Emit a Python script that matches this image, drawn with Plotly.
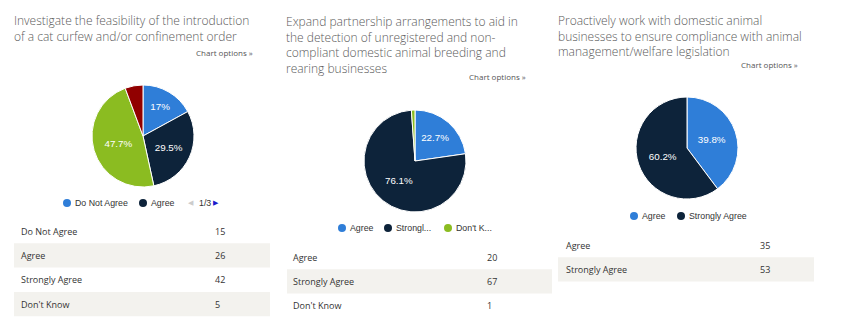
import plotly.graph_objects as go

W, H = 850, 336

# ---- data ----
titles = [
    ["Investigate the feasibility of the introduction",
     "of a cat curfew and/or confinement order"],
    ["Expand partnership arrangements to aid in",
     "the detection of unregistered and non-",
     "compliant domestic animal breeding and",
     "rearing businesses"],
    ["Proactively work with domestic animal",
     "businesses to ensure compliance with animal",
     "management/welfare legislation"],
]
labels1 = ["Do Not Agree", "Agree", "Strongly Agree", "Don't Know"]
values1 = [15, 26, 42, 5]
labels2 = ["Agree", "Strongly Agree", "Don't Know"]
values2 = [20, 67, 1]
labels3 = ["Agree", "Strongly Agree"]
values3 = [35, 53]
legend1 = ["Do Not Agree", "Agree"]
legend2 = ["Agree", "Strongl...", "Don't K..."]
legend3 = ["Agree", "Strongly Agree"]

colors1 = ["#2f7ed8", "#0d233a", "#8bbc21", "#910000"]
colors2 = ["#2f7ed8", "#0d233a", "#8bbc21"]
colors3 = ["#2f7ed8", "#0d233a"]


def px(x):
    return x / W


def py(y):
    return 1 - y / H


def pct_text(vals):
    tot = sum(vals)
    out = []
    for v in vals:
        p = round(v / tot * 100, 1)
        out.append("" if p < 8 else f"{p:g}%")
    return out


panels = [
    dict(labels=labels1, values=values1, colors=colors1, legend=legend1,
         tx=12, ty=10, opt_x=255, opt_y=52, cx=143, cy=136, r=51,
         leg_y=203, leg_x=[67, 143], tbl_x0=14, tbl_x1=270, tbl_y0=219,
         lab_x=19, val_x=213),
    dict(labels=labels2, values=values2, colors=colors2, legend=legend2,
         tx=284, ty=11, opt_x=528, opt_y=77, cx=415, cy=161, r=51,
         leg_y=228, leg_x=[342, 388, 448], tbl_x0=287, tbl_x1=552, tbl_y0=245,
         lab_x=291, val_x=485),
    dict(labels=labels3, values=values3, colors=colors3, legend=legend3,
         tx=556, ty=10, opt_x=800, opt_y=64, cx=687, cy=148, r=51,
         leg_y=216, leg_x=[634, 681], tbl_x0=558, tbl_x1=814, tbl_y0=233,
         lab_x=564, val_x=758),
]

fig = go.Figure()
ann = []
shapes = []
ROW_H = 24.3
TITLE_FONT = dict(family="Open Sans", size=12, color="#5a5a5a", weight=300)
LEG_FONT = dict(family="Liberation Sans, Arial", size=8.8, color="#333333")
TBL_FONT = dict(family="Open Sans", size=9, color="#333333")

for i, p in enumerate(panels):
    fig.add_trace(go.Pie(
        labels=p["labels"], values=p["values"], sort=False, direction="clockwise",
        rotation=0, marker=dict(colors=p["colors"], line=dict(color="white", width=1)),
        text=pct_text(p["values"]), textinfo="text", textposition="inside",
        insidetextorientation="horizontal",
        textfont=dict(family="Liberation Sans, Arial", size=9.8, color="white"),
        hoverinfo="skip", showlegend=False,
        domain=dict(x=[px(p["cx"] - p["r"]), px(p["cx"] + p["r"])],
                    y=[py(p["cy"] + p["r"]), py(p["cy"] - p["r"])]),
    ))
    # title
    ann.append(dict(text="<br>".join(titles[i]), x=px(p["tx"]), y=py(p["ty"]),
                    xanchor="left", yanchor="top", align="left", showarrow=False,
                    font=TITLE_FONT))
    ann.append(dict(text="Chart options »", x=px(p["opt_x"]), y=py(p["opt_y"]),
                    xanchor="right", yanchor="middle", showarrow=False,
                    font=dict(family="Open Sans", size=8, color="#555555")))
    # legend
    for k, name in enumerate(p["legend"]):
        lx = p["leg_x"][k]
        shapes.append(dict(type="circle", xref="paper", yref="paper",
                           x0=px(lx - 4), x1=px(lx + 4), y0=py(p["leg_y"] + 4),
                           y1=py(p["leg_y"] - 4), fillcolor=p["colors"][k],
                           line=dict(width=0)))
        ann.append(dict(text=name, x=px(lx + 6), y=py(p["leg_y"]),
                        xanchor="left", yanchor="middle", showarrow=False,
                        font=LEG_FONT))
    # table
    for k, (lab, val) in enumerate(zip(p["labels"], p["values"])):
        y0 = p["tbl_y0"] + k * ROW_H
        if k % 2 == 1:
            shapes.append(dict(type="rect", xref="paper", yref="paper",
                               x0=px(p["tbl_x0"]), x1=px(p["tbl_x1"]),
                               y0=py(y0 + ROW_H), y1=py(y0),
                               fillcolor="#f3f2ee", line=dict(width=0), layer="below"))
        ann.append(dict(text=lab, x=px(p["lab_x"]), y=py(y0 + ROW_H / 2),
                        xanchor="left", yanchor="middle", showarrow=False,
                        font=TBL_FONT))
        ann.append(dict(text=str(val), x=px(p["val_x"]), y=py(y0 + ROW_H / 2),
                        xanchor="left", yanchor="middle", showarrow=False,
                        font=TBL_FONT))

# pagination on first legend
ann.append(dict(text="◀", x=px(186), y=py(203), xanchor="left", yanchor="middle",
                showarrow=False, font=dict(family="DejaVu Sans", size=7, color="#cccccc")))
ann.append(dict(text="1/3", x=px(197), y=py(203), xanchor="left", yanchor="middle",
                showarrow=False, font=LEG_FONT))
ann.append(dict(text="▶", x=px(211), y=py(203), xanchor="left", yanchor="middle",
                showarrow=False, font=dict(family="DejaVu Sans", size=7, color="#1a1acc")))

fig.update_layout(
    width=W, height=H, margin=dict(l=0, r=0, t=0, b=0),
    paper_bgcolor="white", plot_bgcolor="white",
    annotations=ann, shapes=shapes,
)

fig.write_html("out.html", config={"displayModeBar": False})
